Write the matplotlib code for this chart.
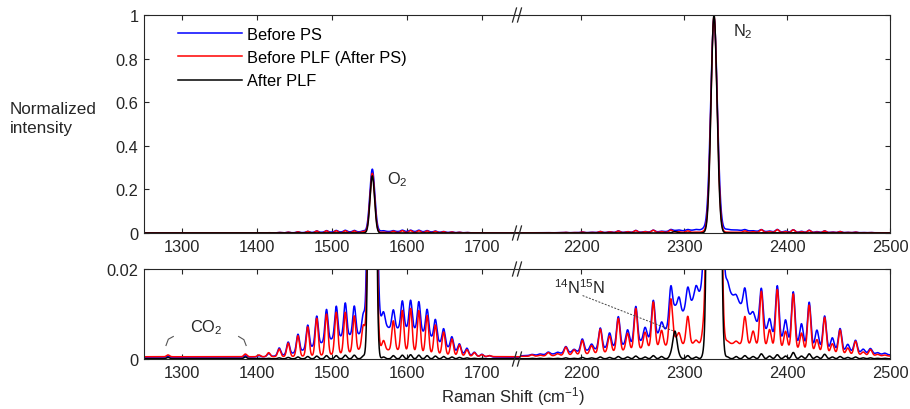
import numpy as np
import matplotlib
matplotlib.use("Agg")
import matplotlib.pyplot as plt
from matplotlib.lines import Line2D

plt.rcParams.update({
    "font.family": ["Liberation Sans", "DejaVu Sans"],
    "font.size": 11.8,
    "mathtext.fontset": "custom",
    "mathtext.rm": "Liberation Sans",
    "mathtext.it": "Liberation Sans:italic",
    "mathtext.bf": "Liberation Sans:bold",
    "axes.linewidth": 0.8,
})

# ---------------------------------------------------------------- data
SERIES = ["Before PS", "Before PLF (After PS)", "After PLF"]

# O2 rotational (O/S branch) lines, cm^-1, and their amplitudes
O2_LINES = [1403, 1416, 1430, 1442, 1455, 1468, 1480, 1493, 1506, 1518, 1530, 1542,
            1569, 1582, 1594, 1605, 1616, 1627, 1638, 1649, 1660, 1670, 1680, 1690, 1700, 1710]
O2_BLUE = [0.0003, 0.0007, 0.0017, 0.0027, 0.0039, 0.0052, 0.0064, 0.0070, 0.0070, 0.0073, 0.0064, 0.0040,
           0.0026, 0.0042, 0.0060, 0.0062, 0.0064, 0.0056, 0.0045, 0.0036, 0.0028, 0.0019, 0.0014, 0.0008, 0.0005, 0.0003]
O2_RED = [0.0004, 0.0009, 0.0017, 0.0030, 0.0046, 0.0065, 0.0083, 0.0091, 0.0093, 0.0091, 0.0080, 0.0045,
          0.0020, 0.0065, 0.0089, 0.0095, 0.0092, 0.0083, 0.0064, 0.0050, 0.0036, 0.0024, 0.0014, 0.0008, 0.0004, 0.0002]
O2_BLACK = [0.0001, 0.0001, 0.0002, 0.0003, 0.0004, 0.0005, 0.0006, 0.0007, 0.0007, 0.0008, 0.0008, 0.0006,
            0.0004, 0.0007, 0.0008, 0.0009, 0.0008, 0.0007, 0.0006, 0.0005, 0.0004, 0.0003, 0.0002, 0.0001, 0.0001, 0.0000]

# N2 rotational (O/S branch) lines, cm^-1, and their amplitudes
N2_LINES = [2152, 2160, 2168, 2177, 2185, 2193, 2201, 2210, 2218.5, 2227.5, 2236, 2245, 2253, 2262,
            2270, 2278, 2287, 2295, 2303.5, 2311.5, 2319,
            2342, 2350.5, 2359, 2367, 2375, 2383, 2390.5, 2398.5, 2406, 2414, 2421.5, 2429,
            2436.5, 2444, 2451.5, 2459, 2466.5, 2474, 2481, 2488, 2495]
N2_BLUE = [0.0002, 0.0002, 0.0005, 0.0003, 0.0014, 0.0006, 0.0027, 0.0013, 0.0046, 0.0032, 0.0065, 0.0032,
           0.0080, 0.0028, 0.0081, 0.0023, 0.0083, 0.0040, 0.0043, 0.0025, 0.0040,
           0.0020, 0.0010, 0.0048, 0.0016, 0.0086, 0.0032, 0.0114, 0.0045, 0.0112, 0.0045, 0.0096, 0.0037,
           0.0071, 0.0025, 0.0048, 0.0015, 0.0026, 0.0008, 0.0011, 0.0003, 0.0003]
N2_RED = [0.0003, 0.0002, 0.0007, 0.0004, 0.0018, 0.0011, 0.0031, 0.0018, 0.0053, 0.0036, 0.0073, 0.0038,
          0.0091, 0.0036, 0.0101, 0.0036, 0.0102, 0.0025, 0.0062, 0.0008, 0.0030,
          0.0005, 0.0006, 0.0062, 0.0031, 0.0121, 0.0038, 0.0129, 0.0038, 0.0123, 0.0038, 0.0102, 0.0027,
          0.0078, 0.0021, 0.0053, 0.0014, 0.0030, 0.0007, 0.0013, 0.0003, 0.0002]
N2_BLACK = [0.0001, 0.0001, 0.0001, 0.0001, 0.0002, 0.0001, 0.0003, 0.0002, 0.0004, 0.0003, 0.0005, 0.0004,
            0.0006, 0.0004, 0.0007, 0.0005, 0.0007, 0.0005, 0.0007, 0.0004, 0.0006,
            0.0004, 0.0005, 0.0007, 0.0005, 0.0011, 0.0006, 0.0009, 0.0006, 0.0014, 0.0006, 0.0011, 0.0005,
            0.0010, 0.0004, 0.0005, 0.0003, 0.0004, 0.0002, 0.0002, 0.0001, 0.0001]

# Q-branch peaks (O2, N2)
Q_CENTERS = [1554, 2329]
Q_BLUE = [0.285, 0.97]
Q_RED = [0.270, 0.99]
Q_BLACK = [0.262, 1.00]
Q_SIGMA_BLUE = [3.3, 3.2]
Q_SIGMA_RED = [3.1, 3.0]
Q_SIGMA_BLACK = [3.0, 2.9]

# CO2 Fermi dyad and the 14N15N Q-branch
CO2_LINES = [1282, 1385]
CO2_BLUE = [0.0002, 0.0003]
CO2_RED = [0.0004, 0.0006]
CO2_BLACK = [0.0003, 0.0004]
N15N_CENTER = 2291
N15N_BLUE = 0.0030
N15N_RED = 0.0015
N15N_BLACK = 0.0061

# flat offsets and broad underlying continua (center, height, width)
BASE_BLUE, BASE_RED, BASE_BLACK = 0.0004, 0.0005, 0.00005
BG_BLUE = [(1520, 0.0045, 40), (1605, 0.0060, 35), (1560, 0.0030, 9),
           (2330, 0.011, 26), (2330, 0.005, 80)]
BG_RED = [(1575, 0.0015, 50), (1550, 0.0020, 8), (2330, 0.003, 70)]
BG_BLACK = []

O2_SIGMA, N2_SIGMA, CO2_SIGMA, N15N_SIGMA = 2.0, 1.6, 2.0, 2.0

X_LEFT = (1250, 1750)
X_RIGHT = (2140, 2500)
XT_LEFT = [1300, 1400, 1500, 1600, 1700]
XT_RIGHT = [2200, 2300, 2400, 2500]


def gauss(x, c, h, s):
    return h * np.exp(-0.5 * ((x - c) / s) ** 2)


def spectrum(x, base, o2, n2, co2, n15, q, qs, bg):
    y = np.full_like(x, base)
    for c, a in zip(O2_LINES, o2):
        y += gauss(x, c, a, O2_SIGMA)
    for c, a in zip(N2_LINES, n2):
        y += gauss(x, c, a, N2_SIGMA)
    for c, a in zip(CO2_LINES, co2):
        y += gauss(x, c, a, CO2_SIGMA)
    y += gauss(x, N15N_CENTER, n15, N15N_SIGMA)
    for c, a, s in zip(Q_CENTERS, q, qs):
        y += gauss(x, c, a, s)
    for c, a, s in bg:
        y += gauss(x, c, a, s)
    return y


x = np.arange(X_LEFT[0], X_RIGHT[1] + 0.05, 0.1)
curves = [
    (spectrum(x, BASE_BLUE, O2_BLUE, N2_BLUE, CO2_BLUE, N15N_BLUE, Q_BLUE, Q_SIGMA_BLUE, BG_BLUE), "#0000ff"),
    (spectrum(x, BASE_RED, O2_RED, N2_RED, CO2_RED, N15N_RED, Q_RED, Q_SIGMA_RED, BG_RED), "#ff0000"),
    (spectrum(x, BASE_BLACK, O2_BLACK, N2_BLACK, CO2_BLACK, N15N_BLACK, Q_BLACK, Q_SIGMA_BLACK, BG_BLACK), "#000000"),
]

# ---------------------------------------------------------------- layout
W, H = 910, 410
fig = plt.figure(figsize=(W / 100, H / 100), dpi=100)
AX_COL = "#262626"


def fx(px):
    return px / W


def fy(py):
    return 1 - py / H


xl0, xmid, xr1 = 144, 519.5, 890
rows = [(16, 234), (270, 360)]
axes = []
for (t, b) in rows:
    axl = fig.add_axes([fx(xl0), fy(b), fx(xmid) - fx(xl0), fy(t) - fy(b)])
    axr = fig.add_axes([fx(xmid), fy(b), fx(xr1) - fx(xmid), fy(t) - fy(b)])
    axes.append((axl, axr))

ylims = [(0, 1), (0, 0.02)]
yticks = [[0, 0.2, 0.4, 0.6, 0.8, 1.0], [0, 0.02]]
ylabels = [["0", "0.2", "0.4", "0.6", "0.8", "1"], ["0", "0.02"]]

handles = []
for r, (axl, axr) in enumerate(axes):
    for ax, (lo, hi), xt in ((axl, X_LEFT, XT_LEFT), (axr, X_RIGHT, XT_RIGHT)):
        m = (x >= lo) & (x <= hi)
        for i, (yv, col) in enumerate(curves):
            ln, = ax.plot(x[m], yv[m], color=col, lw=1.1, solid_joinstyle="round")
            if r == 0 and ax is axl:
                handles.append(ln)
        ax.set_xlim(lo, hi)
        ax.set_ylim(*ylims[r])
        ax.set_xticks(xt)
        ax.set_xticklabels([str(v) for v in xt])
        for s in ax.spines.values():
            s.set_color(AX_COL)
        ax.tick_params(direction="in", length=3.5, width=0.8, colors=AX_COL,
                       labelcolor=AX_COL, top=True, pad=4)
    axl.spines["right"].set_visible(False)
    axr.spines["left"].set_visible(False)
    axl.set_yticks(yticks[r])
    axl.set_yticklabels(ylabels[r])
    axl.tick_params(axis="y", right=False)
    axr.set_yticks(yticks[r])
    axr.tick_params(axis="y", left=False, right=True, labelleft=False)

# break marks on every horizontal spine at the join
for yc in (16, 234, 270, 360):
    for xc in (514.5, 519.5):
        fig.add_artist(Line2D([fx(xc - 2), fx(xc + 2)], [fy(yc + 7), fy(yc - 7)],
                              color=AX_COL, lw=0.9, transform=fig.transFigure))

# legend
axl_top = axes[0][0]
axl_top.legend(handles, SERIES, loc="upper left", bbox_to_anchor=(0.09, 0.945),
               frameon=False, handlelength=3.9, handletextpad=0.3, labelspacing=0.5,
               borderaxespad=0, borderpad=0)

# axis titles
fig.text(fx(10), fy(119), "Normalized\nintensity", ha="left", va="center",
         linespacing=1.4, color=AX_COL, fontsize=12.3)
fig.text(fx(513), fy(397), "Raman Shift (cm$^{-1}$)", ha="center", va="center",
         color=AX_COL, fontsize=12)

# peak labels
axl_top.text(1574, 0.25, "O$_2$", ha="left", va="center", color=AX_COL)
axes[0][1].text(2347, 0.927, "N$_2$", ha="left", va="center", color=AX_COL)

axl_b, axr_b = axes[1]
axl_b.text(1311, 0.0072, "CO$_2$", ha="left", va="center", color=AX_COL)
axl_b.plot([1279.3, 1282.4, 1289], [0.0030, 0.0044, 0.0050], color="#555555", lw=0.8)
axl_b.plot([1376, 1383, 1386], [0.0050, 0.0043, 0.0030], color="#555555", lw=0.8)

axr_b.text(2174, 0.0160, "$^{14}$N$^{15}$N", ha="left", va="center", color=AX_COL)
axr_b.plot([2201.3, 2288.9], [0.0141, 0.0063], color="#444444", lw=0.7,
           dashes=(2, 1.5))

fig.savefig("out.png", dpi=100)
